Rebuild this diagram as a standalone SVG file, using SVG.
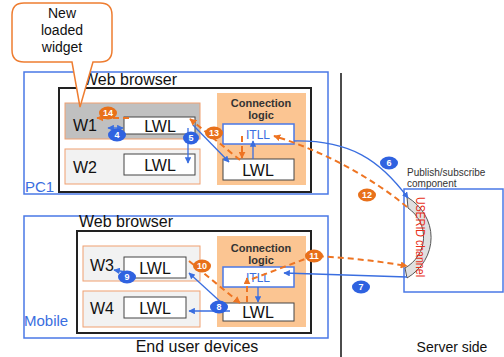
<svg xmlns="http://www.w3.org/2000/svg" width="504" height="357" viewBox="0 0 504 357">
<style>
text{font-family:"Liberation Sans",Arial,sans-serif}
.dev{fill:none;stroke:#4a78e6;stroke-width:1.5}
.br{fill:none;stroke:#222;stroke-width:2}
.wg{stroke:#f0a070;stroke-width:1}
.lwl{fill:#fff;stroke:#444;stroke-width:1}
.cl{fill:#fbc592}
.itll{fill:#fff;stroke:#4a78e6;stroke-width:1.5}
.big{font-size:16px;fill:#111}
.lw{font-size:16px;fill:#111;text-anchor:middle}
.clt{font-size:11px;font-weight:bold;fill:#333;text-anchor:middle}
.it{font-size:12px;fill:#3a6ee0;text-anchor:middle}
.b{stroke:#3a6ee0;stroke-width:1.3;fill:none}
.o{stroke:#ee7422;stroke-width:2;fill:none;stroke-dasharray:6 4}
.bb{fill:#2f62e0}
.ob{fill:#e8701a}
.bt{font-size:9px;fill:#fff;text-anchor:middle;font-weight:bold}
</style>
<defs>
<marker id="ab" viewBox="0 0 10 10" refX="9" refY="5" markerWidth="5" markerHeight="5" orient="auto-start-reverse"><path d="M0,0L10,5L0,10z" fill="#3a6ee0"/></marker>
<marker id="ao" viewBox="0 0 10 10" refX="9" refY="5" markerWidth="3.5" markerHeight="3.5" orient="auto"><path d="M0,0L10,5L0,10z" fill="#ee7422"/></marker>
</defs>

<line x1="341" y1="73" x2="341" y2="357" stroke="#111" stroke-width="1.5"/>

<g id="pc1">
<rect class="dev" x="24" y="72" width="304" height="122"/>
<text x="25" y="192" font-size="15" fill="#3a6ee0">PC1</text>
</g>
<g id="browser1">
<rect class="br" x="59" y="88" width="252" height="104"/>
<text class="big" x="83" y="85" font-size="15">Web browser</text>
</g>
<g id="w1">
<rect class="wg" x="65" y="103" width="135" height="36" fill="#c0c0c0"/>
<text class="big" x="73" y="131">W1</text>
<rect class="lwl" x="124" y="117" width="71" height="17"/>
<text class="lw" x="160" y="132">LWL</text>
</g>
<g id="w2">
<rect class="wg" x="65" y="149" width="135" height="35" fill="#f2f2f2"/>
<text class="big" x="73" y="173">W2</text>
<rect class="lwl" x="124" y="154" width="71" height="21" fill="#f2f2f2"/>
<text class="lw" x="160" y="171">LWL</text>
</g>
<g id="conn1">
<rect class="cl" x="217" y="93" width="89" height="92"/>
<text class="clt" x="261" y="107">Connection</text>
<text class="clt" x="261" y="119">logic</text>
<rect class="itll" x="223" y="124" width="71" height="20"/>
<text class="it" x="258" y="139">ITLL</text>
<rect class="lwl" x="223" y="159" width="71" height="21"/>
<text class="lw" x="258" y="176">LWL</text>
</g>

<g id="mobile">
<rect class="dev" x="24" y="216" width="304" height="122"/>
<text x="24" y="326" font-size="15" fill="#3a6ee0">Mobile</text>
</g>
<g id="browser2">
<rect class="br" x="77" y="231" width="234" height="102"/>
<text class="big" x="79" y="227">Web browser</text>
</g>
<g id="w3">
<rect class="wg" x="83" y="246" width="117" height="35" fill="#f2f2f2"/>
<text class="big" x="90" y="271">W3</text>
<rect class="lwl" x="124" y="257" width="62" height="21" fill="#f2f2f2"/>
<text class="lw" x="155" y="274">LWL</text>
</g>
<g id="w4">
<rect class="wg" x="83" y="291" width="117" height="36" fill="#f2f2f2"/>
<text class="big" x="90" y="314">W4</text>
<rect class="lwl" x="124" y="297" width="62" height="21" fill="#f2f2f2"/>
<text class="lw" x="155" y="314">LWL</text>
</g>
<g id="conn2">
<rect class="cl" x="217" y="236" width="89" height="91"/>
<text class="clt" x="261" y="252">Connection</text>
<text class="clt" x="261" y="264">logic</text>
<rect class="itll" x="223" y="267" width="71" height="20"/>
<text class="it" x="258" y="282">ITLL</text>
<rect class="lwl" x="223" y="303" width="71" height="18"/>
<text class="lw" x="258" y="318">LWL</text>
</g>

<g id="pubsub">
<rect class="dev" x="404" y="189" width="99" height="103"/>
<text x="407" y="176" font-size="10" fill="#333">Publish/subscribe</text>
<text x="407" y="187" font-size="10" fill="#333">component</text>
<path d="M407,197 A52,48 0 0 1 407,278 L405,268 A38,36 0 0 0 408,208 Z" fill="#e0e0e0" stroke="#555" stroke-width="1"/>
<text transform="translate(416,237) rotate(90)" font-size="12" fill="#e8301a" text-anchor="middle" textLength="80" lengthAdjust="spacingAndGlyphs">USERID channel</text>
</g>

<g id="callout">
<path d="M24,3 H100 Q112,3 112,15 V50 Q112,62 100,62 H93 L80,107 L72,62 H24 Q12,62 12,50 V15 Q12,3 24,3 Z" fill="#fff" stroke="#ee7d31" stroke-width="1.5"/>
<text x="62" y="18" font-size="14" fill="#111" text-anchor="middle">New</text>
<text x="62" y="35" font-size="14" fill="#111" text-anchor="middle">loaded</text>
<text x="62" y="52" font-size="14" fill="#111" text-anchor="middle">widget</text>
</g>

<g id="connectors">
<line class="b" x1="108" y1="128" x2="123" y2="128" marker-start="url(#ab)" marker-end="url(#ab)"/>
<line class="b" x1="188" y1="128" x2="188" y2="163" marker-end="url(#ab)"/>
<line class="b" x1="193" y1="125" x2="229" y2="162" marker-end="url(#ab)"/>
<line class="b" x1="253" y1="159" x2="253" y2="141" marker-end="url(#ab)"/>
<path class="b" d="M294,141 C350,140 380,160 408,198" marker-end="url(#ab)"/>
<path class="o" d="M407,207 C370,176 320,150 274,136" marker-end="url(#ao)"/>
<line class="o" x1="242" y1="136" x2="242" y2="158" marker-end="url(#ao)"/>
<line class="o" x1="240" y1="160" x2="190" y2="119" marker-end="url(#ao)"/>
<line class="o" x1="129" y1="118" x2="97" y2="118" marker-end="url(#ao)"/>
<line class="b" x1="407" y1="277" x2="284" y2="273" marker-end="url(#ab)"/>
<line class="b" x1="258" y1="287" x2="258" y2="302" marker-end="url(#ab)"/>
<line class="b" x1="224" y1="305" x2="189" y2="273" marker-end="url(#ab)"/>
<line class="b" x1="230" y1="311" x2="189" y2="311" marker-end="url(#ab)"/>
<line class="b" x1="126" y1="272" x2="114" y2="270" marker-end="url(#ab)"/>
<line class="o" x1="189" y1="261" x2="240" y2="303" marker-end="url(#ao)"/>
<line class="o" x1="247" y1="302" x2="247" y2="278" marker-end="url(#ao)"/>
<path class="o" d="M252,279 L313,256 Q360,258 407,266" marker-end="url(#ao)"/>
</g>

<g id="badges">
<ellipse class="ob" cx="108" cy="113" rx="9" ry="6.5"/><text class="bt" x="108" y="116">14</text>
<ellipse class="bb" cx="117" cy="135" rx="9" ry="6.5"/><text class="bt" x="117" y="138">4</text>
<ellipse class="bb" cx="191" cy="138" rx="8" ry="6.5"/><text class="bt" x="191" y="141">5</text>
<ellipse class="ob" cx="214" cy="133" rx="9" ry="6.5"/><text class="bt" x="214" y="136">13</text>
<ellipse class="bb" cx="389" cy="163" rx="9" ry="6.5"/><text class="bt" x="389" y="166">6</text>
<ellipse class="ob" cx="367" cy="195" rx="9" ry="6.5"/><text class="bt" x="367" y="198">12</text>
<ellipse class="bb" cx="361" cy="287" rx="9" ry="6.5"/><text class="bt" x="361" y="290">7</text>
<ellipse class="ob" cx="314" cy="256" rx="9" ry="6.5"/><text class="bt" x="314" y="259">11</text>
<ellipse class="ob" cx="202" cy="266" rx="9" ry="6.5"/><text class="bt" x="202" y="269">10</text>
<ellipse class="bb" cx="127" cy="277" rx="9" ry="6.5"/><text class="bt" x="127" y="280">9</text>
<ellipse class="bb" cx="219" cy="307" rx="9" ry="6.5"/><text class="bt" x="219" y="310">8</text>
</g>

<text x="197" y="352" font-size="16" fill="#111" text-anchor="middle">End user devices</text>
<text x="452" y="352" font-size="14" fill="#111" text-anchor="middle">Server side</text>
</svg>
